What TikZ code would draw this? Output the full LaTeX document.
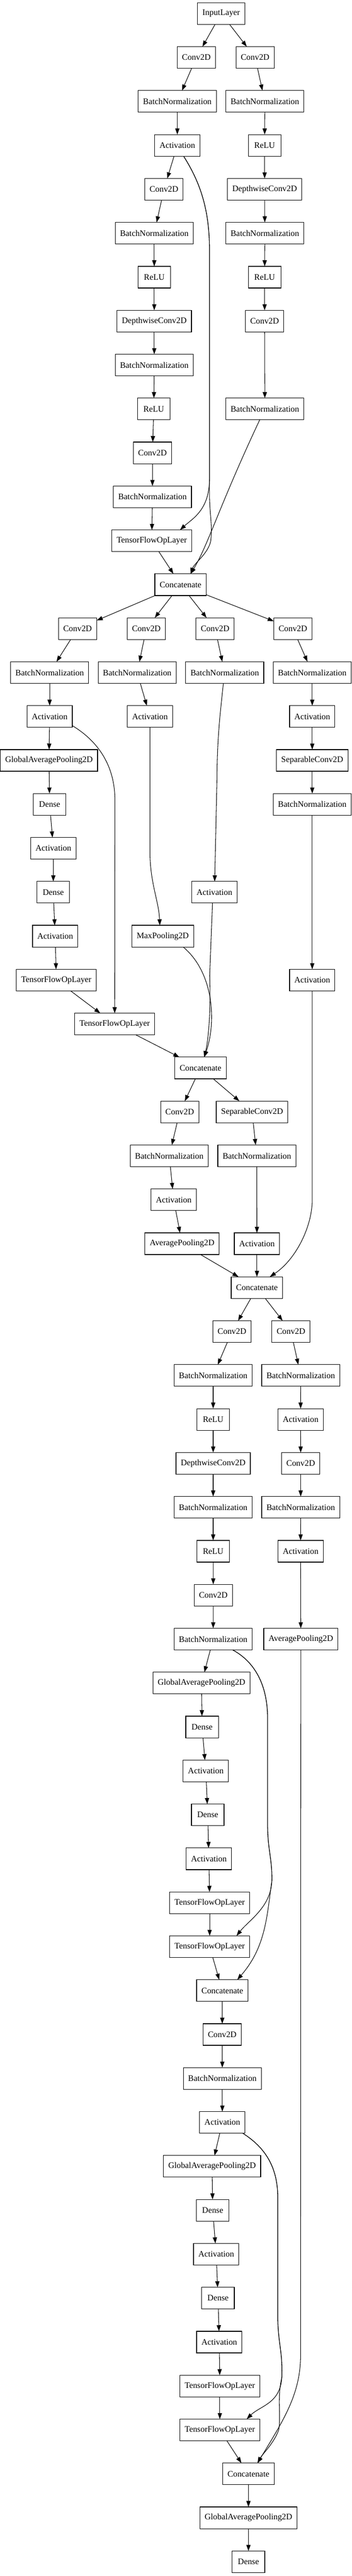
\documentclass[tikz,border=0pt]{standalone}
\usepackage{fontspec}
\setmainfont{Liberation Serif}
\usetikzlibrary{arrows.meta}
\begin{document}
\begin{tikzpicture}[
		x=0.75pt, y=-72.975pt,
		layer/.style={draw, line width=1pt, rectangle, minimum width=54pt, minimum height=36pt,
			inner xsep=8pt, inner ysep=0pt, outer sep=0pt, font=\fontsize{14}{16}\selectfont},
		link/.style={draw, line width=0.9pt, -{Triangle[length=10pt, width=7pt]}}
	]
	\useasboundingbox (0,-0.3083) rectangle (778,58.325);

	% first block
	\node[layer] (inp) at (489,0) {InputLayer};
	\node[layer] (convA1) at (434,1) {Conv2D};
	\node[layer] (convA2) at (564,1) {Conv2D};
	\node[layer] (bnA1) at (392,2) {BatchNormalization};
	\node[layer] (bnA2) at (585.5,2) {BatchNormalization};
	\node[layer] (actA) at (392,3) {Activation};
	\node[layer] (reluA1) at (585,3) {ReLU};
	\node[layer] (convA3) at (362.5,4) {Conv2D};
	\node[layer] (dwA1) at (585,4) {DepthwiseConv2D};
	\node[layer] (bnA3) at (341,5) {BatchNormalization};
	\node[layer] (bnA4) at (585.5,5) {BatchNormalization};
	\node[layer] (reluA2) at (341,6) {ReLU};
	\node[layer] (reluA3) at (585,6) {ReLU};
	\node[layer] (dwA2) at (341,7) {DepthwiseConv2D};
	\node[layer] (convA4) at (585,7) {Conv2D};
	\node[layer] (bnA5) at (341,8) {BatchNormalization};
	\node[layer] (reluA4) at (340,9) {ReLU};
	\node[layer] (bnA6) at (585.5,9) {BatchNormalization};
	\node[layer] (convA5) at (337,10) {Conv2D};
	\node[layer] (bnA7) at (337,11) {BatchNormalization};
	\node[layer] (tfA) at (335.5,12) {TensorFlowOpLayer};
	\node[layer] (catA) at (399,13) {Concatenate};

	\draw[link] (inp) -- (convA1);
	\draw[link] (inp) -- (convA2);
	\draw[link] (convA1) -- (bnA1);
	\draw[link] (convA2) -- (bnA2);
	\draw[link] (bnA1) -- (actA);
	\draw[link] (bnA2) -- (reluA1);
	\draw[link] (actA) -- (convA3);
	\draw[link] (reluA1) -- (dwA1);
	\draw[link] (convA3) -- (bnA3);
	\draw[link] (dwA1) -- (bnA4);
	\draw[link] (bnA3) -- (reluA2);
	\draw[link] (bnA4) -- (reluA3);
	\draw[link] (reluA2) -- (dwA2);
	\draw[link] (reluA3) -- (convA4);
	\draw[link] (dwA2) -- (bnA5);
	\draw[link] (convA4) -- (bnA6);
	\draw[link] (bnA5) -- (reluA4);
	\draw[link] (reluA4) -- (convA5);
	\draw[link] (convA5) -- (bnA7);
	\draw[link] (bnA7) -- (tfA);
	\draw[link] (tfA) -- (catA);
	\draw[link] (actA.-60) .. controls (440,3.8) and (462,4.4) .. (463,5.3) -- (463,10.6)
		.. controls (463,11.3) and (425,11.5) .. (tfA.21);
	\draw[link] (actA.-60) .. controls (440,3.8) and (462,4.4) .. (463,5.3) -- (463,10.9)
		.. controls (463,11.4) and (470,11.6) .. (466,12.0) .. controls (460,12.3) and (430,12.5) .. (catA.47);
	\draw[link] (bnA6) .. controls (485,11.2) and (460,12.1) .. (catA.47);

	% second block
	\node[layer] (convB1) at (171.5,14) {Conv2D};
	\node[layer] (convB2) at (323.5,14) {Conv2D};
	\node[layer] (convB3) at (475.5,14) {Conv2D};
	\node[layer] (convB4) at (647.5,14) {Conv2D};
	\node[layer] (bnB1) at (109.75,15) {BatchNormalization};
	\node[layer] (bnB2) at (303.25,15) {BatchNormalization};
	\node[layer] (bnB3) at (496.75,15) {BatchNormalization};
	\node[layer] (bnB4) at (690.25,15) {BatchNormalization};
	\node[layer] (actB1) at (109.75,16) {Activation};
	\node[layer] (actB2) at (331.5,16) {Activation};
	\node[layer] (actB4) at (690.25,16) {Activation};
	\node[layer] (gapB) at (108.25,17) {GlobalAveragePooling2D};
	\node[layer] (sepB) at (690.25,17) {SeparableConv2D};
	\node[layer] (denseB1) at (109.75,18) {Dense};
	\node[layer] (bnB5) at (690.25,18) {BatchNormalization};
	\node[layer] (actB5) at (118,19) {Activation};
	\node[layer] (denseB2) at (117.75,20) {Dense};
	\node[layer] (actB3) at (474,20) {Activation};
	\node[layer] (actB6) at (122,21) {Activation};
	\node[layer] (maxB) at (359.75,21) {MaxPooling2D};
	\node[layer] (tfB1) at (124.5,22) {TensorFlowOpLayer};
	\node[layer] (actB7) at (690.25,22) {Activation};
	\node[layer] (tfB2) at (253.5,23) {TensorFlowOpLayer};
	\node[layer] (catB) at (443.25,24) {Concatenate};

	\draw[link] (catA) -- (convB1);
	\draw[link] (catA) -- (convB2);
	\draw[link] (catA) -- (convB3);
	\draw[link] (catA) -- (convB4);
	\draw[link] (convB1) -- (bnB1);
	\draw[link] (convB2) -- (bnB2);
	\draw[link] (convB3) -- (bnB3);
	\draw[link] (convB4) -- (bnB4);
	\draw[link] (bnB1) -- (actB1);
	\draw[link] (bnB2) -- (actB2);
	\draw[link] (bnB4) -- (actB4);
	\draw[link] (actB1) -- (gapB);
	\draw[link] (actB4) -- (sepB);
	\draw[link] (gapB) -- (denseB1);
	\draw[link] (sepB) -- (bnB5);
	\draw[link] (denseB1) -- (actB5);
	\draw[link] (bnB5) -- (actB7);
	\draw[link] (actB5) -- (denseB2);
	\draw[link] (denseB2) -- (actB6);
	\draw[link] (actB6) -- (tfB1);
	\draw[link] (tfB1) -- (tfB2);
	\draw[link] (tfB2) -- (catB);
	\draw[link] (actB1.-22) .. controls (215,16.55) and (254,17.1) .. (254,17.9) -- (tfB2);
	\draw[link] (actB2) -- (331.5,19.1) .. controls (332,19.8) and (351,20.2) .. (maxB.105);
	\draw[link] (bnB3.-97) .. controls (486,16.0) and (480,16.5) .. (479.5,17.5) -- (actB3);
	\draw[link] (maxB.-28) .. controls (470,21.8) and (480,22.9) .. (catB.71);
	\draw[link] (actB3.-100) -- (463.5,21.9) .. controls (466,22.6) and (462,23.3) .. (catB.71);

	% third block
	\node[layer] (convC1) at (397.25,25) {Conv2D};
	\node[layer] (sepC) at (557.25,25) {SeparableConv2D};
	\node[layer] (bnC1) at (374.25,26) {BatchNormalization};
	\node[layer] (bnC2) at (567.75,26) {BatchNormalization};
	\node[layer] (actC1) at (384,27) {Activation};
	\node[layer] (avgC) at (402.5,28) {AveragePooling2D};
	\node[layer] (actC2) at (568,28) {Activation};
	\node[layer] (catC) at (568,29) {Concatenate};

	\draw[link] (catB) -- (convC1);
	\draw[link] (catB) -- (sepC);
	\draw[link] (convC1) -- (bnC1);
	\draw[link] (sepC) -- (bnC2);
	\draw[link] (bnC1) -- (actC1);
	\draw[link] (actC1) -- (avgC);
	\draw[link] (bnC2) -- (actC2);
	\draw[link] (avgC) -- (catC);
	\draw[link] (actC2) -- (catC);
	\draw[link] (actB7) -- (690.25,27) .. controls (690.25,27.6) and (655,28.35) .. (catC.40);

	% fourth block
	\node[layer] (convD1) at (512.75,30) {Conv2D};
	\node[layer] (convD2) at (643.25,30) {Conv2D};
	\node[layer] (bnD1) at (471.25,31) {BatchNormalization};
	\node[layer] (bnD2) at (664.75,31) {BatchNormalization};
	\node[layer] (reluD1) at (471.25,32) {ReLU};
	\node[layer] (actD2) at (664.5,32) {Activation};
	\node[layer] (dwD) at (471.25,33) {DepthwiseConv2D};
	\node[layer] (convD3) at (664.75,33) {Conv2D};
	\node[layer] (bnD3) at (471.25,34) {BatchNormalization};
	\node[layer] (bnD4) at (664.75,34) {BatchNormalization};
	\node[layer] (reluD2) at (471.25,35) {ReLU};
	\node[layer] (actD3) at (664.5,35) {Activation};
	\node[layer] (convD4) at (471.5,36) {Conv2D};
	\node[layer] (bnD5) at (471.25,37) {BatchNormalization};
	\node[layer] (avgD) at (665,37) {AveragePooling2D};
	\node[layer] (gapD) at (445.5,38) {GlobalAveragePooling2D};
	\node[layer] (denseD1) at (446.75,39) {Dense};
	\node[layer] (actD4) at (455,40) {Activation};
	\node[layer] (denseD2) at (459.25,41) {Dense};
	\node[layer] (actD5) at (461.75,42) {Activation};
	\node[layer] (tfD1) at (463.5,43) {TensorFlowOpLayer};
	\node[layer] (tfD2) at (463.5,44) {TensorFlowOpLayer};
	\node[layer] (catD) at (491.5,45) {Concatenate};

	\draw[link] (catC) -- (convD1);
	\draw[link] (catC) -- (convD2);
	\draw[link] (convD1) -- (bnD1);
	\draw[link] (convD2) -- (bnD2);
	\draw[link] (bnD1) -- (reluD1);
	\draw[link] (bnD2) -- (actD2);
	\draw[link] (reluD1) -- (dwD);
	\draw[link] (actD2) -- (convD3);
	\draw[link] (dwD) -- (bnD3);
	\draw[link] (convD3) -- (bnD4);
	\draw[link] (bnD3) -- (reluD2);
	\draw[link] (bnD4) -- (actD3);
	\draw[link] (reluD2) -- (convD4);
	\draw[link] (actD3) -- (avgD);
	\draw[link] (convD4) -- (bnD5);
	\draw[link] (bnD5) -- (gapD);
	\draw[link] (gapD) -- (denseD1);
	\draw[link] (denseD1) -- (actD4);
	\draw[link] (actD4) -- (denseD2);
	\draw[link] (denseD2) -- (actD5);
	\draw[link] (actD5) -- (tfD1);
	\draw[link] (tfD1) -- (tfD2);
	\draw[link] (tfD2) -- (catD);
	\draw[link] (bnD5.-29) .. controls (560,37.5) and (591.5,38) .. (591.5,38.8) -- (591.5,41.2)
		.. controls (591.5,41.8) and (602,42) .. (601,42.5) .. controls (599,43.1) and (550,43.4) .. (tfD2.22);
	\draw[link] (bnD5.-29) .. controls (560,37.5) and (591.5,38) .. (591.5,38.8) -- (591.5,41.2)
		.. controls (591.5,41.8) and (602,42) .. (601,42.5) .. controls (590,43.3) and (588,44) .. (catD.36);

	% last block
	\node[layer] (convE) at (491.25,46) {Conv2D};
	\node[layer] (bnE) at (491.5,47) {BatchNormalization};
	\node[layer] (actE1) at (491.5,48) {Activation};
	\node[layer] (gapE) at (468.75,49) {GlobalAveragePooling2D};
	\node[layer] (denseE1) at (470.25,50) {Dense};
	\node[layer] (actE2) at (478,51) {Activation};
	\node[layer] (denseE2) at (482,52) {Dense};
	\node[layer] (actE3) at (484.75,53) {Activation};
	\node[layer] (tfE1) at (486,54) {TensorFlowOpLayer};
	\node[layer] (tfE2) at (486,55) {TensorFlowOpLayer};
	\node[layer] (catE) at (549.25,56) {Concatenate};
	\node[layer] (gapF) at (549.25,57) {GlobalAveragePooling2D};
	\node[layer] (denseF) at (549.25,58) {Dense};

	\draw[link] (catD) -- (convE);
	\draw[link] (convE) -- (bnE);
	\draw[link] (bnE) -- (actE1);
	\draw[link] (actE1) -- (gapE);
	\draw[link] (gapE) -- (denseE1);
	\draw[link] (denseE1) -- (actE2);
	\draw[link] (actE2) -- (denseE2);
	\draw[link] (denseE2) -- (actE3);
	\draw[link] (actE3) -- (tfE1);
	\draw[link] (tfE1) -- (tfE2);
	\draw[link] (tfE2) -- (catE);
	\draw[link] (catE) -- (gapF);
	\draw[link] (gapF) -- (denseF);
	\draw[link] (actE1.-28) .. controls (575,48.5) and (614,48.9) .. (614,49.7) -- (614,52.4)
		.. controls (614,53.0) and (625,53.2) .. (623,53.8) .. controls (620,54.4) and (575,54.45) .. (tfE2.22);
	\draw[link] (actE1.-28) .. controls (575,48.5) and (614,48.9) .. (614,49.7) -- (614,52.4)
		.. controls (614,53.0) and (625,53.2) .. (623,53.8) .. controls (612,54.3) and (622,54.7) .. (616,55.0)
		.. controls (606,55.3) and (580,55.55) .. (catE.50);
	\draw[link] (avgD) -- (664.5,53.3) .. controls (664.5,54.2) and (625,54.8) .. (catE.50);
\end{tikzpicture}
\end{document}
